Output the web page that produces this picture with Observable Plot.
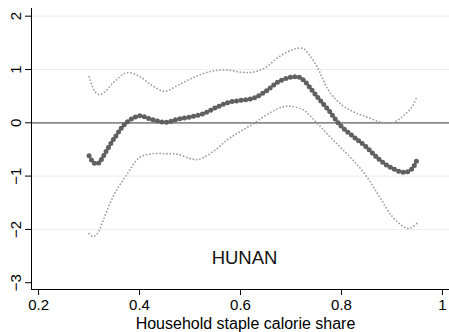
<!DOCTYPE html>
<html>
<head>
<meta charset="utf-8">
<script src="https://cdn.jsdelivr.net/npm/d3@7"></script>
<script src="https://cdn.jsdelivr.net/npm/@observablehq/plot@0.6"></script>
<style>
  body { margin: 0; background: #fff; }
</style>
</head>
<body>
<script>
// Fitted curve (dark dots)
const mainX = [0.300, 0.3065, 0.313, 0.320, 0.325, 0.35, 0.375, 0.40, 0.425, 0.45, 0.475, 0.50, 0.525, 0.55, 0.575, 0.60, 0.625, 0.65, 0.675, 0.70, 0.715, 0.725, 0.75, 0.775, 0.80, 0.825, 0.85, 0.875, 0.90, 0.925, 0.94, 0.95];
const mainY = [-0.62, -0.72, -0.77, -0.75, -0.68, -0.29, 0.01, 0.13, 0.06, 0.01, 0.065, 0.11, 0.165, 0.28, 0.38, 0.42, 0.46, 0.59, 0.77, 0.855, 0.86, 0.80, 0.51, 0.23, -0.07, -0.27, -0.46, -0.69, -0.85, -0.93, -0.86, -0.69];

// Upper confidence band
const upperX = [0.300, 0.3065, 0.313, 0.320, 0.33, 0.35, 0.375, 0.40, 0.425, 0.45, 0.475, 0.50, 0.525, 0.55, 0.575, 0.60, 0.625, 0.65, 0.675, 0.70, 0.715, 0.725, 0.75, 0.775, 0.80, 0.825, 0.85, 0.875, 0.895, 0.91, 0.925, 0.94, 0.95];
const upperY = [0.86, 0.68, 0.57, 0.53, 0.57, 0.77, 0.94, 0.87, 0.70, 0.59, 0.70, 0.82, 0.92, 0.98, 0.99, 0.95, 0.95, 1.04, 1.23, 1.36, 1.40, 1.39, 1.08, 0.60, 0.34, 0.20, 0.11, 0.02, -0.01, 0.04, 0.15, 0.30, 0.51];

// Lower confidence band
const lowerX = [0.300, 0.3065, 0.313, 0.320, 0.325, 0.33, 0.35, 0.375, 0.40, 0.425, 0.45, 0.475, 0.50, 0.515, 0.525, 0.55, 0.575, 0.60, 0.625, 0.65, 0.675, 0.69, 0.70, 0.725, 0.75, 0.775, 0.80, 0.825, 0.85, 0.875, 0.90, 0.925, 0.935, 0.95];
const lowerY = [-2.08, -2.13, -2.11, -2.02, -1.90, -1.78, -1.34, -0.97, -0.65, -0.58, -0.58, -0.59, -0.67, -0.69, -0.66, -0.51, -0.31, -0.16, -0.02, 0.14, 0.27, 0.31, 0.31, 0.24, 0.01, -0.24, -0.48, -0.72, -1.01, -1.38, -1.75, -1.96, -1.98, -1.88];

const xTicks = [0.2, 0.4, 0.6, 0.8, 1];
const yTicks = [-3, -2, -1, 0, 1, 2];
const gridY = [-2, -1, 1, 2];
const xLabel = "Household staple calorie share";
const panelLabel = "HUNAN";

const xDomain = [0.186, 1.014];
const yDomain = [-3.127, 2.144];

const toPts = (xs, ys) => xs.map((x, i) => ({x, y: ys[i]}));
const mainPts = toPts(mainX, mainY);
const upperPts = toPts(upperX, upperY);
const lowerPts = toPts(lowerX, lowerY);

const fmtY = d => (d < 0 ? "\u2212" + Math.abs(d) : String(d));

const chart = Plot.plot({
  width: 449,
  height: 332,
  marginLeft: 31,
  marginRight: 0,
  marginTop: 8,
  marginBottom: 43,
  style: {fontFamily: "'Liberation Sans', Arial, Helvetica, sans-serif", fontSize: "15px", color: "#000", background: "#fff"},
  x: {domain: xDomain},
  y: {domain: yDomain},
  marks: [
    Plot.ruleY(gridY, {stroke: "#ececec", strokeWidth: 1}),
    Plot.ruleY([0], {stroke: "#8a8a8a", strokeWidth: 1.7}),
    Plot.line(upperPts, {x: "x", y: "y", curve: "catmull-rom", stroke: "#9c9c9c", strokeWidth: 1.8, strokeDasharray: "0 3.4", strokeLinecap: "round"}),
    Plot.line(lowerPts, {x: "x", y: "y", curve: "catmull-rom", stroke: "#9c9c9c", strokeWidth: 1.8, strokeDasharray: "0 3.4", strokeLinecap: "round"}),
    Plot.line(mainPts, {x: "x", y: "y", curve: "catmull-rom", stroke: "#606060", strokeWidth: 5, strokeDasharray: "0 4.6", strokeLinecap: "round"}),
    Plot.text([panelLabel], {x: 0.608, y: -2.546, text: d => d, fontSize: 18.5, textAnchor: "middle", lineAnchor: "middle", fill: "#111"}),
    Plot.axisX({ticks: xTicks, tickFormat: d => String(d), tickSize: 6, tickPadding: 4, fontSize: 15, label: null}),
    Plot.axisY({ticks: yTicks, tickSize: 6, tickFormat: () => "", label: null}),
    Plot.text(yTicks, {y: d => d, text: fmtY, frameAnchor: "left", dx: -10.7, rotate: -90, textAnchor: "middle", lineAnchor: "bottom", fontSize: 15, fill: "#000"}),
    Plot.text([xLabel], {text: d => d, frameAnchor: "bottom", dx: 5, dy: 39, textAnchor: "middle", lineAnchor: "bottom", fontSize: 16, fill: "#000"}),
    Plot.ruleX([xDomain[0]], {stroke: "#000", strokeWidth: 1}),
    Plot.ruleY([yDomain[0]], {stroke: "#000", strokeWidth: 1})
  ]
});
document.body.appendChild(chart);
</script>
</body>
</html>
